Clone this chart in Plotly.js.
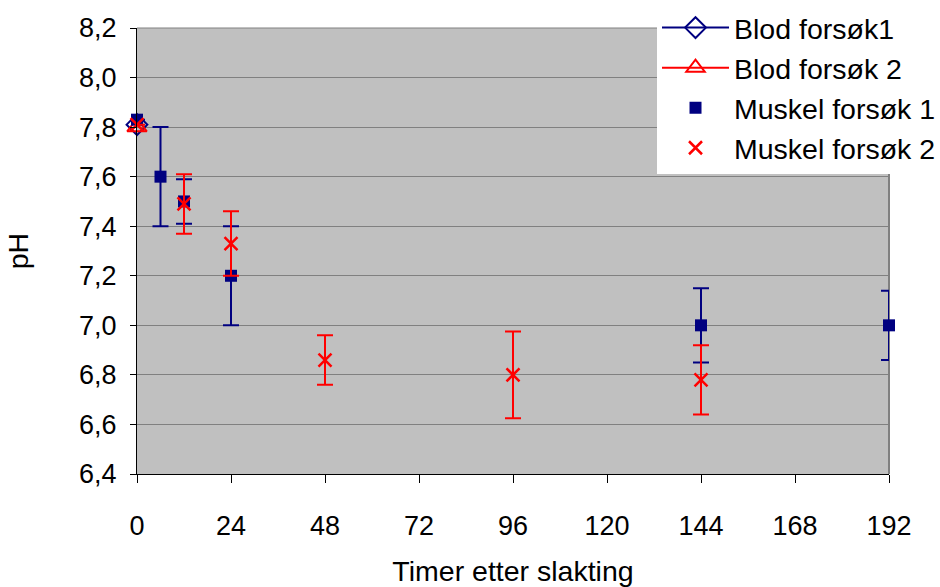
<!DOCTYPE html>
<html>
<head>
<meta charset="utf-8">
<script src="https://cdn.plot.ly/plotly-3.0.1.min.js"></script>
<style>
  html, body { margin: 0; padding: 0; background: #ffffff; }
  #chart { width: 940px; height: 587px; }
</style>
</head>
<body>
<div id="chart"></div>
<script>
// pH i blod og muskel etter slakting
const blod1Hours = [0];
const blod1PH = [7.81];

const blod2Hours = [0];
const blod2PH = [7.80];

const muskel1Hours = [0, 6, 12, 24, 144, 192];
const muskel1PH = [7.83, 7.60, 7.50, 7.20, 7.00, 7.00];
const muskel1Err = [0, 0.20, 0.09, 0.20, 0.15, 0.14];

const muskel2Hours = [0, 12, 24, 48, 96, 144];
const muskel2PH = [7.81, 7.49, 7.33, 6.86, 6.80, 6.78];
const muskel2Err = [0, 0.12, 0.13, 0.10, 0.175, 0.14];

const xTicks = [0, 24, 48, 72, 96, 120, 144, 168, 192];

const NAVY = '#000080';
const RED = '#ff0000';
const FONT = 'Liberation Sans, Arial, sans-serif';

const traces = [
  {
    name: 'Blod forsøk1',
    x: blod1Hours, y: blod1PH,
    mode: 'lines+markers',
    line: { color: NAVY, width: 2 },
    marker: { symbol: 'diamond-open', size: 16, color: NAVY, line: { width: 2, color: NAVY } },
    cliponaxis: false
  },
  {
    name: 'Blod forsøk 2',
    x: blod2Hours, y: blod2PH,
    mode: 'lines+markers',
    line: { color: RED, width: 2 },
    marker: { symbol: 'triangle-up-open', size: 17, color: RED, line: { width: 2, color: RED } },
    cliponaxis: false
  },
  {
    name: 'Muskel forsøk 1',
    x: muskel1Hours, y: muskel1PH,
    mode: 'markers',
    marker: { symbol: 'square', size: 12, color: NAVY },
    error_y: { type: 'data', array: muskel1Err, visible: true, color: NAVY, thickness: 2, width: 8 },
    cliponaxis: false
  },
  {
    name: 'Muskel forsøk 2',
    x: muskel2Hours, y: muskel2PH,
    mode: 'markers',
    marker: { symbol: 'x-thin', size: 13, color: RED, line: { width: 2.5, color: RED } },
    error_y: { type: 'data', array: muskel2Err, visible: true, color: RED, thickness: 2, width: 8 },
    cliponaxis: false
  }
];

const layout = {
  width: 940,
  height: 587,
  margin: { l: 137, r: 51, t: 28, b: 113, autoexpand: false },
  paper_bgcolor: '#ffffff',
  plot_bgcolor: '#c0c0c0',
  separators: ', ',
  font: { family: FONT, size: 27, color: '#000000' },
  showlegend: true,
  legend: {
    x: 0.6915, xanchor: 'left',
    y: 1.057, yanchor: 'top',
    bgcolor: '#ffffff',
    borderwidth: 0,
    itemwidth: 67,
    font: { family: FONT, size: 28.5, color: '#000000' },
    tracegroupgap: 0
  },
  xaxis: {
    range: [0, 192],
    tickvals: xTicks,
    ticktext: xTicks.map(String),
    showgrid: false,
    zeroline: false,
    showline: true,
    linecolor: '#000000',
    linewidth: 1,
    ticks: 'outside',
    ticklen: 8,
    tickcolor: '#000000',
    ticklabelstandoff: 20,
    tickfont: { family: FONT, size: 27, color: '#000000' },
    title: { text: 'Timer etter slakting', font: { family: FONT, size: 28.5, color: '#000000' }, standoff: 20 }
  },
  yaxis: {
    range: [6.4, 8.2],
    dtick: 0.2,
    tick0: 6.4,
    tickformat: '.1f',
    showgrid: true,
    gridcolor: '#808080',
    gridwidth: 1,
    zeroline: false,
    showline: true,
    linecolor: '#000000',
    linewidth: 1,
    ticks: 'outside',
    ticklen: 6,
    tickcolor: '#000000',
    ticklabelstandoff: 8,
    tickfont: { family: FONT, size: 27, color: '#000000' },
    title: { text: 'pH', font: { family: FONT, size: 28.5, color: '#000000' }, standoff: 42 }
  },
  shapes: [
    { type: 'line', xref: 'paper', yref: 'paper', x0: 0, x1: 1, y0: 1, y1: 1, line: { color: '#808080', width: 1 }, layer: 'below' },
    { type: 'line', xref: 'paper', yref: 'paper', x0: 1, x1: 1, y0: 0, y1: 1, line: { color: '#808080', width: 2 }, layer: 'below' }
  ]
};

Plotly.newPlot('chart', traces, layout, { displayModeBar: false, staticPlot: true });
</script>
</body>
</html>
